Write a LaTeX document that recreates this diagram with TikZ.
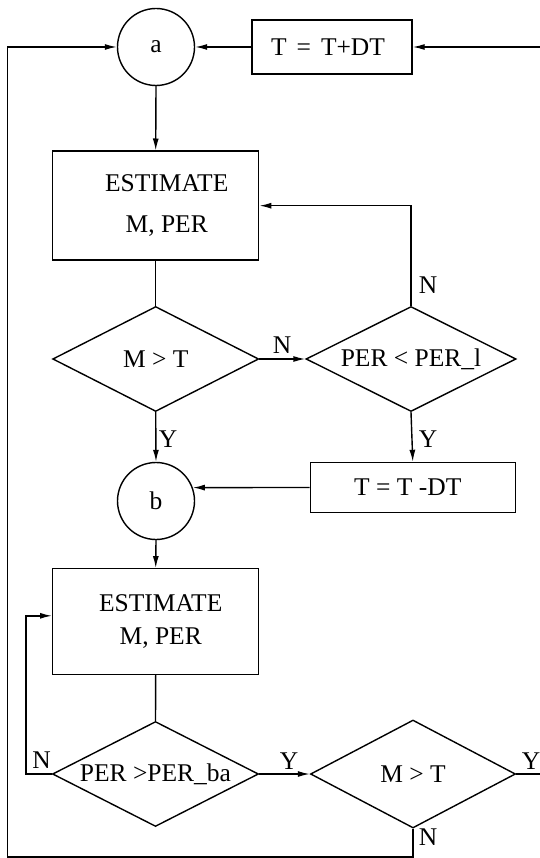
\documentclass[tikz,border=0pt]{standalone}
\usepackage{fontspec}
\setmainfont{Liberation Serif}
\usetikzlibrary{arrows.meta,shapes.geometric,calc}
\begin{document}
\begin{tikzpicture}[x=1pt,y=-1pt,
  line width=1.4pt,
  every node/.style={font=\fontsize{25.5}{30}\selectfont},
  arr/.style={-{Latex[length=12pt,width=6pt]}},
  conn/.style={draw,circle,line width=1.4pt,minimum size=77pt,inner sep=0pt},
  proc/.style={draw,rectangle,line width=1.4pt,inner sep=0pt,align=center},
  dec/.style={draw,diamond,line width=1.4pt,shape aspect=2,inner sep=0pt,minimum width=206pt,minimum height=105pt},
  lbl/.style={inner sep=0pt}]
\useasboundingbox (0,0) rectangle (539,858);
% nodes
\node[conn] (a) at (156,47) {a};
\node[proc,minimum width=160pt,minimum height=54pt] (tplus) at (332,47) {\hspace*{-8pt}T\hspace{10pt}=\hspace{10pt}T+DT};
\node[proc,minimum width=206pt,minimum height=109pt,font=\fontsize{25.5}{41}\selectfont] (e1) at (155.7,205.7) {\hspace*{22pt}ESTIMATE\\\hspace*{22pt}M, PER};
\node[dec] (d1) at (155.7,359) {M > T};
\node[dec,minimum width=210pt] (d2) at (411,359) {PER < PER\_l};
\node[proc,minimum width=205pt,minimum height=50pt] (tminus) at (412.8,487.5) {\hspace*{-10pt}T = T -DT};
\node[conn] (b) at (156,501) {b};
\node[proc,minimum width=206pt,minimum height=105.5pt,font=\fontsize{25.5}{33}\selectfont] (e2) at (155.7,621.5) {\hspace*{10pt}ESTIMATE\\\hspace*{10pt}M, PER};
\node[dec] (d3) at (155.5,774) {PER >PER\_ba};
\node[dec,minimum width=205pt,minimum height=108pt] (d4) at (413,774) {M > T};
% coordinates
\coordinate (R) at (540.2,774);
\coordinate (BR) at (413,857);
\coordinate (BL) at (7.6,857);
\coordinate (FL) at (26,774);
% connectors
\draw[arr] (d4.east) -- (R) |- (tplus.east);
\draw[arr] (tplus.west) -- (a.east);
\draw[arr] (d4.south) -- (BR) -- (BL) |- (a.west);
\draw[arr] (a.south) -- (e1.north);
\draw (e1.south) -- (d1.north);
\draw[arr] (d2.north) |- (e1.east);
\draw[arr] (d1.east) -- (d2.west);
\draw[arr] (d1.south) -- (b.north);
\draw[arr] (d2.south) -- (tminus.north);
\draw[arr] (tminus.west) -- (b.20);
\draw[arr] (b.south) -- (e2.north);
\draw (e2.south) -- (d3.north);
\draw[arr] (d3.west) -- (FL) |- ([yshift=5.7pt]e2.west);
\draw[arr] (d3.east) -- (d4.west);
% labels
\node[lbl] (n1) at (428,285) {N};
\node[lbl] (n2) at (282,345) {N};
\node[lbl] (y1) at (168,439) {Y};
\node[lbl] (y2) at (428,439) {Y};
\node[lbl] (n3) at (41.7,760) {N};
\node[lbl] (y3) at (289,761) {Y};
\node[lbl] (y4) at (531,761) {Y};
\node[lbl] (n4) at (428,837) {N};
\end{tikzpicture}
\end{document}
